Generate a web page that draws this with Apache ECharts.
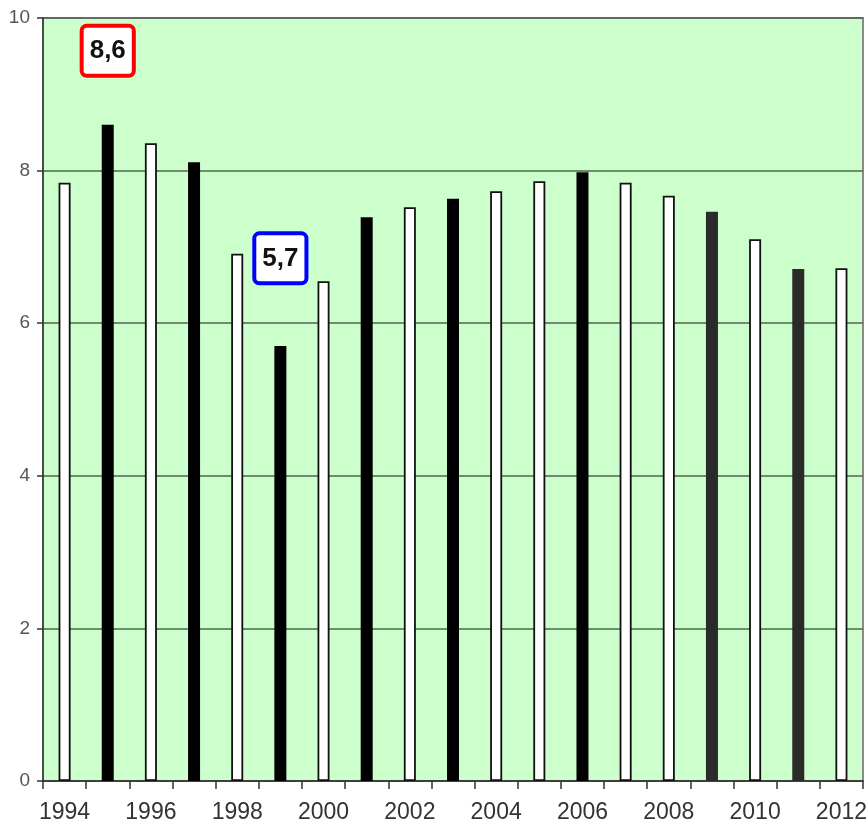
<!DOCTYPE html>
<html>
<head>
<meta charset="utf-8">
<script src="https://cdn.jsdelivr.net/npm/echarts@6/dist/echarts.min.js"></script>
<style>
html,body{margin:0;padding:0;background:#fff;}
#chart{width:867px;height:832px;}
</style>
</head>
<body>
<div id="chart"></div>
<script>
var years = ['1994','1995','1996','1997','1998','1999','2000','2001','2002','2003','2004','2005','2006','2007','2008','2009','2010','2011','2012'];
var values = [7.84, 8.6, 8.36, 8.11, 6.91, 5.7, 6.55, 7.39, 7.52, 7.63, 7.73, 7.86, 7.98, 7.84, 7.67, 7.46, 7.1, 6.71, 6.72];
var barKind = ['open','solid','open','solid','open','solid','open','solid','open','solid','open','open','solid','open','open','dark','open','dark','open'];
var yTicks = [0, 2, 4, 6, 8, 10];
var noteYears = ['1995', '1999'];
var noteTexts = ['8,6', '5,7'];

var FONT = "'Liberation Sans', Arial, sans-serif";
var kindStyle = {
  open: {color: '#ffffff', borderColor: '#111111', borderWidth: 1.8},
  solid: {color: '#000000', borderColor: '#000000', borderWidth: 0},
  dark: {color: '#2b2b2b', borderColor: '#2b2b2b', borderWidth: 0}
};
var noteBorders = ['#ff0000', '#0000ff'];
var noteLift = [0.97, 1.15];

var chart = echarts.init(document.getElementById('chart'), null, {renderer: 'canvas'});
var option = {
  animation: false,
  backgroundColor: '#ffffff',
  grid: {left: 43, right: 4, top: 18, bottom: 51, outerBoundsMode: 'none', containLabel: false,
    show: true, backgroundColor: '#ccffcc', borderColor: '#8a8a8a', borderWidth: 2},
  xAxis: {
    type: 'category',
    data: years,
    boundaryGap: true,
    axisLine: {show: true, lineStyle: {color: '#333333', width: 1.5}},
    axisTick: {show: true, interval: 0, length: 8, lineStyle: {color: '#333333', width: 1.5}},
    axisLabel: {interval: 1, margin: 20, color: '#333333', fontSize: 23, fontFamily: FONT}
  },
  yAxis: {
    type: 'value',
    min: yTicks[0],
    max: yTicks[yTicks.length - 1],
    interval: 2,
    axisLine: {show: true, lineStyle: {color: '#333333', width: 1.5}},
    axisTick: {show: true, length: 6, lineStyle: {color: '#333333', width: 1.5}},
    axisLabel: {margin: 13, color: '#555555', fontSize: 19, fontFamily: FONT},
    splitLine: {show: true, lineStyle: {color: '#4f6350', width: 1.5}}
  },
  series: [{
    type: 'bar',
    barWidth: 12,
    data: values.map(function (v, i) {
      return {value: v, itemStyle: kindStyle[barKind[i]]};
    }),
    markPoint: {
      symbol: 'rect',
      symbolSize: 0,
      data: noteYears.map(function (y, i) {
        var idx = years.indexOf(y);
        return {
          coord: [y, values[idx] + noteLift[i]],
          label: {
            show: true,
            position: 'inside',
            formatter: noteTexts[i],
            color: '#111111',
            fontSize: 26,
            fontWeight: 'bold',
            fontFamily: FONT,
            backgroundColor: '#ffffff',
            borderColor: noteBorders[i],
            borderWidth: 4,
            borderRadius: 3,
            padding: [11, 6, 9, 6]
          }
        };
      })
    }
  }]
};
chart.setOption(option);
</script>
</body>
</html>
